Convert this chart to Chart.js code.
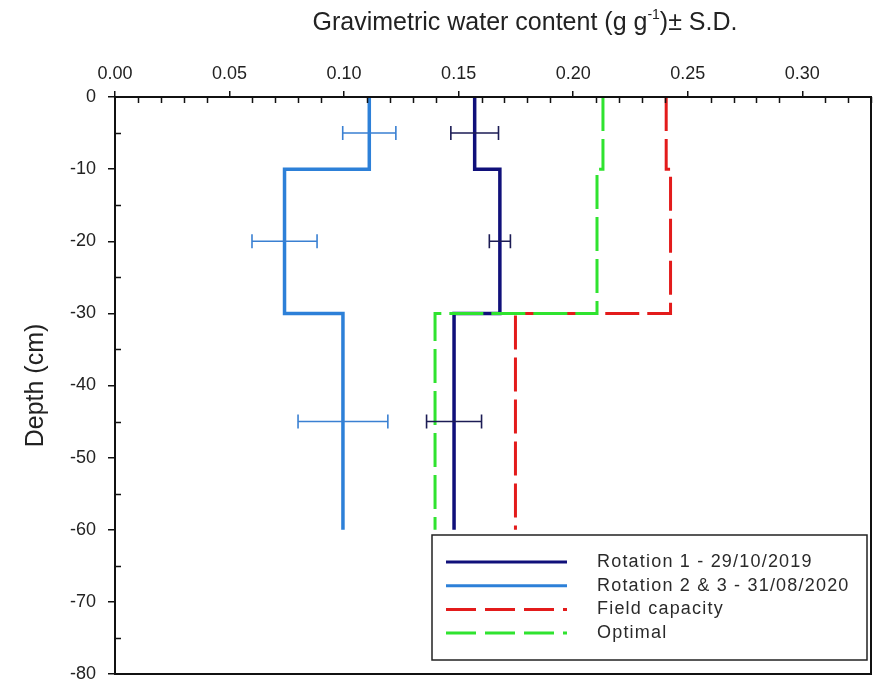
<!DOCTYPE html>
<html>
<head>
<meta charset="utf-8">
<script src="https://cdn.jsdelivr.net/npm/chart.js@4.4.1/dist/chart.umd.min.js"></script>
<style>
  html, body { margin: 0; padding: 0; background: #fff; }
  #wrap { width: 882px; height: 680px; }
</style>
</head>
<body>
<div id="wrap"><canvas id="chartcontainer"></canvas></div>
<script>
// soil layers (cm) - each series is a step profile over these layers
var layerTop = [0, -10, -30];
var layerBottom = [-10, -30, -60];
var rotation1 = [0.157, 0.168, 0.148];
var rotation23 = [0.111, 0.074, 0.0995];
var fieldCapacity = [0.2406, 0.2425, 0.1748];
var optimal = [0.2130, 0.2104, 0.1397];

// sampling depths and standard deviations
var sampleDepth = [-5, -20, -45];
var rotation1Sd = [0.0104, 0.0046, 0.012];
var rotation23Sd = [0.0116, 0.0142, 0.0196];

// axis ticks
var xTicks = [0, 0.05, 0.10, 0.15, 0.20, 0.25, 0.30];
var yTicks = [0, -10, -20, -30, -40, -50, -60, -70, -80];

var labels = ["Rotation 1 - 29/10/2019", "Rotation 2 & 3 - 31/08/2020", "Field capacity", "Optimal"];

function stepPoints(values) {
    var pts = [];
    for (var i = 0; i < values.length; i++) {
        pts.push({x: values[i], y: layerTop[i]});
        pts.push({x: values[i], y: layerBottom[i]});
    }
    return pts;
}

function errPoints(values, sd) {
    var pts = [];
    for (var i = 0; i < sampleDepth.length; i++) {
        pts.push({y: sampleDepth[i], x: values[i], sd: sd[i]});
    }
    return pts;
}

var FONT = "'Liberation Sans', Arial, sans-serif";

var decor = {
    id: 'decor',
    afterDatasetsDraw: function(chart) {
        var ctx = chart.ctx, xs = chart.scales.x, ys = chart.scales.y;
        ctx.save();
        chart.data.datasets.forEach(function(ds) {
            if (!ds.errors) return;
            ctx.strokeStyle = ds.errorColor;
            ctx.lineWidth = 1.6;
            ds.errors.forEach(function(e) {
                var y = ys.getPixelForValue(e.y);
                var x1 = xs.getPixelForValue(e.x - e.sd);
                var x2 = xs.getPixelForValue(e.x + e.sd);
                ctx.beginPath();
                ctx.moveTo(x1, y); ctx.lineTo(x2, y);
                ctx.moveTo(x1, y - 7); ctx.lineTo(x1, y + 7);
                ctx.moveTo(x2, y - 7); ctx.lineTo(x2, y + 7);
                ctx.stroke();
            });
        });
        ctx.restore();
    },
    afterDraw: function(chart) {
        var ctx = chart.ctx, a = chart.chartArea, xs = chart.scales.x, ys = chart.scales.y;
        ctx.save();
        // frame
        ctx.strokeStyle = '#111';
        ctx.lineWidth = 2;
        ctx.strokeRect(a.left, a.top, a.right - a.left, a.bottom - a.top);
        // minor ticks, pointing inwards
        ctx.lineWidth = 1.5;
        ctx.beginPath();
        for (var i = 1; i <= 33; i++) {
            if (i % 5 === 0) continue;
            var px = Math.round(xs.getPixelForValue(i / 100)) + 0.5;
            ctx.moveTo(px, a.top); ctx.lineTo(px, a.top + 6);
        }
        for (var d = -5; d > -80; d -= 10) {
            var py = Math.round(ys.getPixelForValue(d)) + 0.5;
            ctx.moveTo(a.left, py); ctx.lineTo(a.left + 6, py);
        }
        ctx.stroke();

        // top title with superscript
        ctx.fillStyle = '#222';
        ctx.textBaseline = 'alphabetic';
        var p1 = "Gravimetric water content (g g", p2 = "-1", p3 = ")\u00b1 S.D.";
        ctx.font = "25px " + FONT;
        var w1 = ctx.measureText(p1).width, w3 = ctx.measureText(p3).width;
        ctx.font = "14px " + FONT;
        var w2 = ctx.measureText(p2).width;
        var x0 = 525 - (w1 + w2 + w3) / 2, base = 30;
        ctx.font = "25px " + FONT;
        ctx.fillText(p1, x0, base);
        ctx.font = "14px " + FONT;
        ctx.fillText(p2, x0 + w1, base - 11);
        ctx.font = "25px " + FONT;
        ctx.fillText(p3, x0 + w1 + w2, base);

        // legend box
        ctx.fillStyle = '#fff';
        ctx.fillRect(432, 535, 435, 125);
        ctx.strokeStyle = '#222';
        ctx.lineWidth = 1.5;
        ctx.strokeRect(432, 535, 435, 125);
        chart.data.datasets.forEach(function(ds, k) {
            var ly = 562 + k * 23.7;
            ctx.strokeStyle = ds.borderColor;
            ctx.lineWidth = 3;
            ctx.setLineDash(ds.borderDash ? [30, 9] : []);
            ctx.beginPath();
            ctx.moveTo(446, ly); ctx.lineTo(567, ly);
            ctx.stroke();
            ctx.setLineDash([]);
            ctx.fillStyle = '#2a2a2a';
            ctx.font = "18px " + FONT;
            ctx.letterSpacing = '1.2px';
            ctx.textBaseline = 'middle';
            ctx.fillText(ds.label, 597, ly);
            ctx.letterSpacing = '0px';
        });
        ctx.restore();
    }
};

var ctx = document.getElementById("chartcontainer").getContext('2d');
var chart = new Chart(ctx, {
    type: 'scatter',
    data: {
        datasets: [{
            label: labels[0],
            data: stepPoints(rotation1),
            errors: errPoints(rotation1, rotation1Sd),
            errorColor: '#1c1c55',
            borderColor: '#10107a',
            borderWidth: 3.5,
            order: 4
        }, {
            label: labels[1],
            data: stepPoints(rotation23),
            errors: errPoints(rotation23, rotation23Sd),
            errorColor: '#3a80d2',
            borderColor: '#2d80d8',
            borderWidth: 3.5,
            order: 3
        }, {
            label: labels[2],
            data: stepPoints(fieldCapacity),
            borderColor: '#e31b1b',
            borderWidth: 3,
            borderDash: [34, 8],
            order: 2
        }, {
            label: labels[3],
            data: stepPoints(optimal),
            borderColor: '#2fe32f',
            borderWidth: 3,
            borderDash: [34, 8],
            order: 1
        }]
    },
    options: {
        responsive: true,
        maintainAspectRatio: false,
        animation: false,
        showLine: true,
        elements: {
            point: { radius: 0, hoverRadius: 0 },
            line: { borderJoinStyle: 'miter', borderCapStyle: 'butt', tension: 0 }
        },
        layout: { padding: { left: 0, top: 0, right: 11, bottom: 6 } },
        plugins: {
            legend: { display: false },
            tooltip: { enabled: false }
        },
        scales: {
            x: {
                type: 'linear',
                position: 'top',
                min: 0,
                max: 0.33,
                afterBuildTicks: function(scale) {
                    scale.ticks = xTicks.map(function(v) { return {value: v}; });
                },
                afterFit: function(scale) {
                    scale.height = 97;
                    scale.paddingLeft = 0;
                    scale.paddingRight = 0;
                },
                ticks: {
                    color: '#222',
                    padding: 6,
                    maxRotation: 0,
                    font: { family: FONT, size: 18 },
                    callback: function(v) { return v.toFixed(2); }
                },
                grid: { drawOnChartArea: false, drawTicks: true, tickLength: 6, color: '#111', lineWidth: 1.5 },
                border: { display: true, color: '#111', width: 2 }
            },
            y: {
                type: 'linear',
                position: 'left',
                min: -80,
                max: 0,
                afterBuildTicks: function(scale) {
                    scale.ticks = yTicks.map(function(v) { return {value: v}; });
                },
                afterFit: function(scale) {
                    scale.width = 115;
                    scale.paddingTop = 0;
                    scale.paddingBottom = 0;
                },
                ticks: {
                    color: '#222',
                    padding: 12,
                    font: { family: FONT, size: 18 },
                    callback: function(v) { return String(v); }
                },
                grid: { drawOnChartArea: false, drawTicks: true, tickLength: 7, color: '#111', lineWidth: 1.5 },
                border: { display: true, color: '#111', width: 2 },
                title: {
                    display: true,
                    text: 'Depth (cm)',
                    color: '#222',
                    font: { family: FONT, size: 25 },
                    padding: { top: 21, bottom: 0 }
                }
            }
        }
    },
    plugins: [decor]
});
</script>
</body>
</html>
